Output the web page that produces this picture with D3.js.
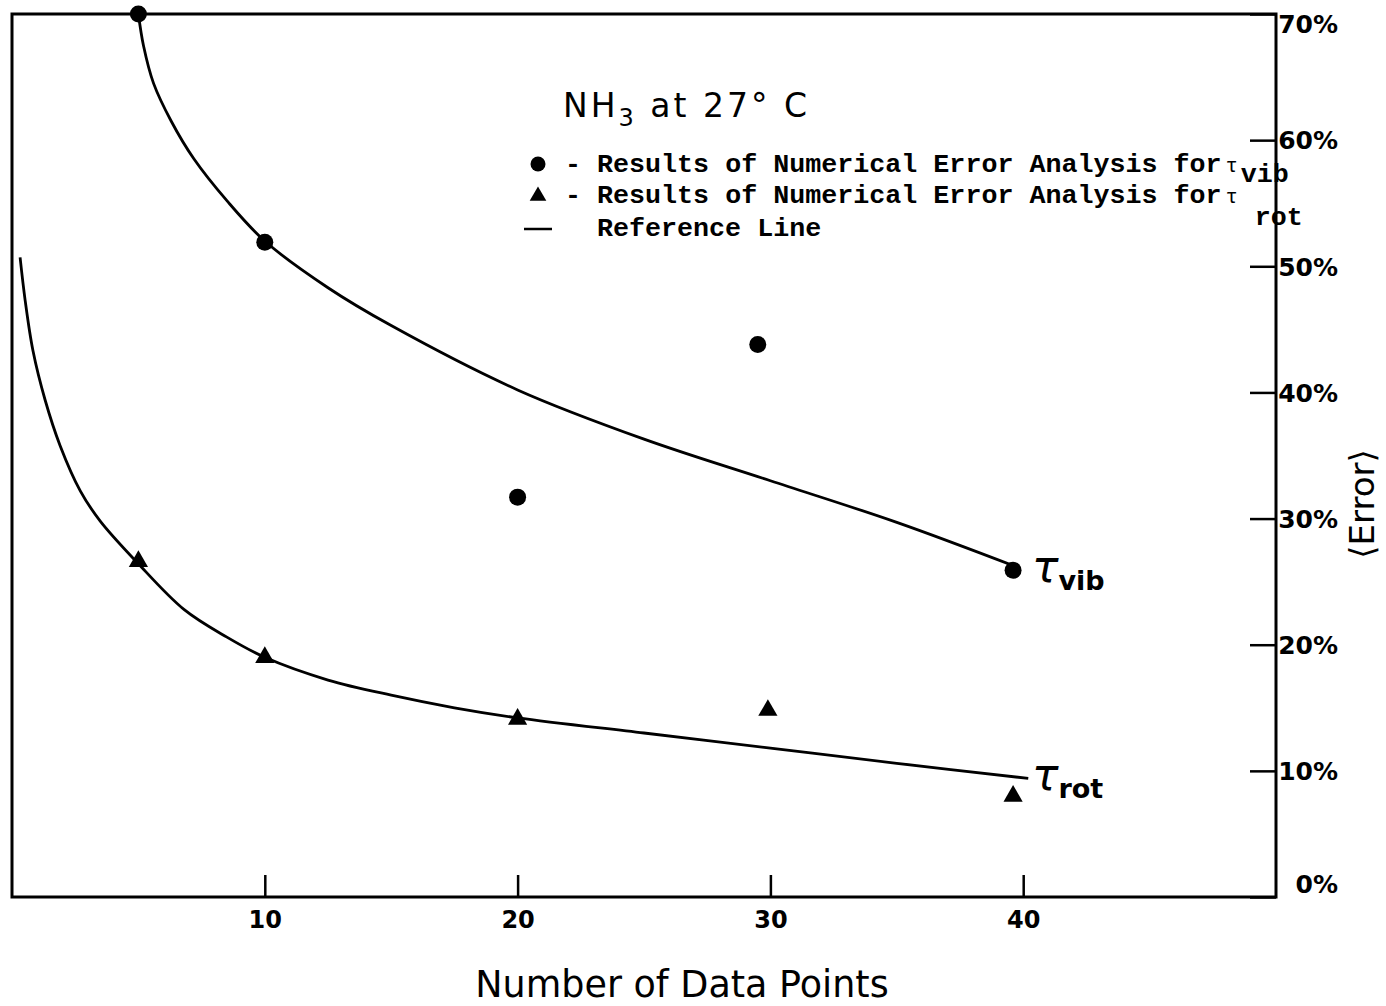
<!DOCTYPE html>
<html>
<head>
<meta charset="utf-8">
<script src="https://cdn.jsdelivr.net/npm/d3@7"></script>
<style>
  body { margin: 0; background: #fff; }
  svg { display: block; }
</style>
</head>
<body>
<svg id="chart" width="1386" height="1006"></svg>
<script>
// Measured points (number of data points vs. mean error in %)
const vibX = [5, 10, 20, 29.5, 39.6];
const vibY = [70, 51.9, 31.7, 43.8, 25.9];
const rotX = [5, 10, 20, 29.9, 39.6];
const rotY = [26.6, 19.0, 14.1, 14.8, 8.0];

// Hand drawn reference lines
const vibRefX = [5, 5.2, 5.6, 6.3, 7.2, 8.5, 10, 12.5, 15, 20, 25, 30, 35, 39.7];
const vibRefY = [70, 67.5, 64.5, 61.5, 58.5, 55.2, 52, 48.3, 45.3, 40.2, 36.3, 33, 29.7, 26.2];
const rotRefX = [0.32, 0.52, 0.83, 1.31, 1.9, 2.7, 3.49, 4.96, 6.8, 8.5, 10, 12.5, 15, 17.5, 20, 25, 30, 35, 40.2];
const rotRefY = [50.7, 47.3, 43.3, 39.4, 35.8, 32.2, 29.8, 26.5, 22.8, 20.6, 19.0, 17.2, 16.0, 15.0, 14.2, 13.0, 11.8, 10.6, 9.4];

// Axis ticks
const xTicks = [10, 20, 30, 40];
const yTicks = [0, 10, 20, 30, 40, 50, 60, 70];

const svg = d3.select("#chart");
const plotLeft = 12, plotRight = 1276, plotTop = 14, plotBottom = 897;

const x = d3.scaleLinear().domain([0, 50]).range([plotLeft, plotRight]);
const y = d3.scaleLinear().domain([0, 70]).range([plotBottom, plotTop]);

const handFont = "'DejaVu Sans', sans-serif";
const monoFont = "'Liberation Mono', 'DejaVu Sans Mono', monospace";

// Frame
svg.append("rect")
    .attr("x", plotLeft).attr("y", plotTop)
    .attr("width", plotRight - plotLeft).attr("height", plotBottom - plotTop)
    .attr("fill", "none").attr("stroke", "#000").attr("stroke-width", 3);

// Bottom axis, ticks pointing into the plot
const xAxis = svg.append("g")
    .attr("transform", `translate(0,${plotBottom})`)
    .call(d3.axisBottom(x).tickValues(xTicks).tickSizeInner(-22).tickSizeOuter(0).tickPadding(14));
xAxis.select(".domain").remove();
xAxis.selectAll("line").attr("stroke-width", 2.5);
xAxis.selectAll("text")
    .attr("font-family", handFont).attr("font-size", 24).attr("font-weight", "bold").attr("fill", "#000");

// Right axis, ticks pointing into the plot
const yAxis = svg.append("g")
    .attr("transform", `translate(${plotRight},0)`)
    .call(d3.axisRight(y).tickValues(yTicks).tickSizeInner(-26).tickSizeOuter(0).tickPadding(0)
        .tickFormat(d => d + "%"));
yAxis.select(".domain").remove();
yAxis.selectAll("line").attr("stroke-width", 2.5);
yAxis.selectAll("text")
    .attr("x", 62).attr("text-anchor", "end")
    .attr("dy", d => d === 0 ? "-0.2em" : d === 70 ? "0.75em" : "0.35em")
    .attr("font-family", handFont).attr("font-size", 25).attr("font-weight", "bold")
    .attr("fill", "#000");

// Axis titles
svg.append("text")
    .attr("x", 682).attr("y", 997).attr("text-anchor", "middle")
    .attr("font-family", handFont).attr("font-size", 36.5)
    .text("Number of Data Points");

svg.append("text")
    .attr("transform", "translate(1374,504) rotate(-90)")
    .attr("text-anchor", "middle")
    .attr("font-family", handFont).attr("font-size", 34)
    .text("\u27E8Error\u27E9");

// Reference lines
const refLine = d3.line().x(d => x(d[0])).y(d => y(d[1])).curve(d3.curveCatmullRom.alpha(0.5));
svg.append("path")
    .datum(d3.zip(vibRefX, vibRefY))
    .attr("d", refLine).attr("fill", "none").attr("stroke", "#000").attr("stroke-width", 2.8);
svg.append("path")
    .datum(d3.zip(rotRefX, rotRefY))
    .attr("d", refLine).attr("fill", "none").attr("stroke", "#000").attr("stroke-width", 2.8);

// Markers
svg.append("g").selectAll("circle")
    .data(d3.zip(vibX, vibY))
    .join("circle")
    .attr("cx", d => x(d[0])).attr("cy", d => y(d[1])).attr("r", 8.5).attr("fill", "#000");

const tri = d3.symbol().type(d3.symbolTriangle).size(160);
svg.append("g").selectAll("path")
    .data(d3.zip(rotX, rotY))
    .join("path")
    .attr("transform", d => `translate(${x(d[0])},${y(d[1])})`)
    .attr("d", tri).attr("fill", "#000");

// Curve labels
function tauLabel(px, py, sub) {
    const t = svg.append("text").attr("x", px).attr("y", py)
        .attr("font-family", handFont).attr("fill", "#000");
    t.append("tspan").attr("font-size", 44).attr("font-style", "italic").text("\u03C4");
    t.append("tspan").attr("font-size", 27).attr("font-weight", "bold").attr("dy", 8).text(sub);
}
tauLabel(1032, 582, "vib");
tauLabel(1032, 790, "rot");

// Title
const title = svg.append("text").attr("x", 563).attr("y", 117)
    .attr("font-family", handFont).attr("font-size", 33).attr("letter-spacing", 3).attr("fill", "#000");
title.append("tspan").text("NH");
title.append("tspan").attr("font-size", 24).attr("dy", 9).text("3");
title.append("tspan").attr("dy", -9).text(" at 27\u00B0 C");

// Legend
const legend = svg.append("g").attr("font-family", monoFont).attr("font-size", 26.7).attr("font-weight", "bold");
legend.append("circle").attr("cx", 538).attr("cy", 164).attr("r", 7.5);
legend.append("path").attr("transform", "translate(538,196)")
    .attr("d", d3.symbol().type(d3.symbolTriangle).size(120));
legend.append("line").attr("x1", 524).attr("x2", 552).attr("y1", 229).attr("y2", 229)
    .attr("stroke", "#000").attr("stroke-width", 2.5);

const l1 = legend.append("text").attr("x", 565).attr("y", 172);
l1.append("tspan").text("- Results of Numerical Error Analysis for");
l1.append("tspan").attr("dx", 4).attr("font-weight", "normal").attr("font-size", 20).text("\u03C4");
l1.append("tspan").attr("dy", 10).attr("dx", 3).text("vib");

const l2 = legend.append("text").attr("x", 565).attr("y", 203);
l2.append("tspan").text("- Results of Numerical Error Analysis for");
l2.append("tspan").attr("dx", 4).attr("font-weight", "normal").attr("font-size", 20).text("\u03C4");
l2.append("tspan").attr("dy", 22).attr("dx", 17).text("rot");

legend.append("text").attr("x", 597).attr("y", 236).text("Reference Line");
</script>
</body>
</html>
